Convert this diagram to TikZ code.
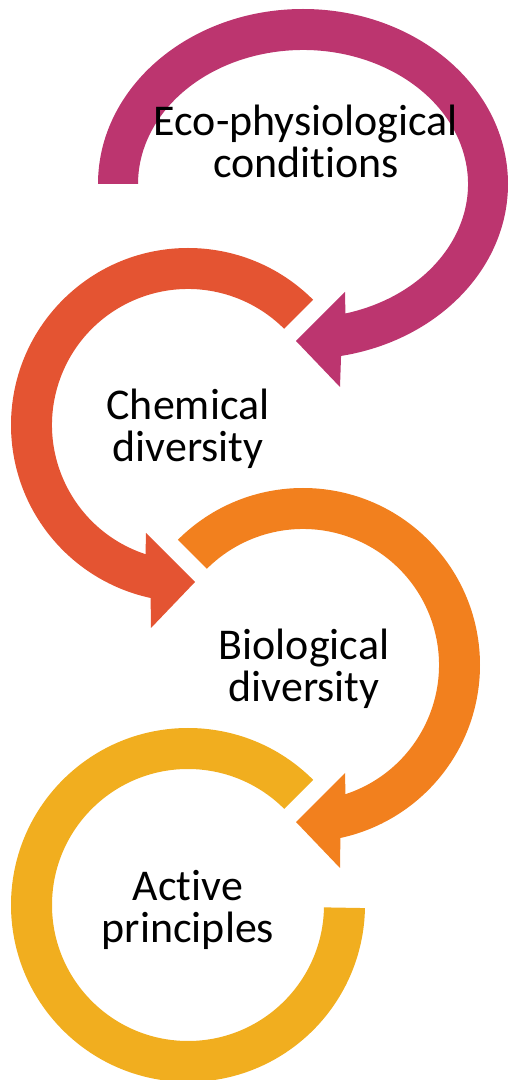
\documentclass[tikz,border=0pt]{standalone}
\usepackage{fontspec}
\setmainfont{Carlito}[Ligatures=NoCommon]

\definecolor{ecopink}{RGB}{188,53,111}
\definecolor{chemred}{RGB}{228,84,50}
\definecolor{bioorange}{RGB}{242,128,30}
\definecolor{actgold}{RGB}{241,174,31}

\begin{document}
\begin{tikzpicture}[x=0.02cm, y=0.02cm,
		lbl/.style={align=center, anchor=base, font=\fontsize{25}{24}\selectfont}]
	\useasboundingbox (0,0) rectangle (508,1080);

	\coordinate (c1) at (303,896);
	\coordinate (c2) at (188,655);
	\coordinate (c3) at (303,415);
	\coordinate (c4) at (188,175);

	% top ring is stretched sideways
	\fill[ecopink, shift={(c1)}] (180:205 and 175)
		arc[start angle=180, end angle=-79.3, x radius=205, y radius=175]
		-- (37,-203) -- (-7,-157) -- (42,-108) -- (-75.1:165 and 134)
		arc[start angle=-75.1, end angle=180, x radius=165, y radius=134] -- cycle;

	\fill[chemred, shift={(c2)}] (45:177)
		arc[start angle=45, end angle=257.8, radius=177]
		-- (-37,-203) -- (7,-157) -- (-42,-108) -- (251.8:136)
		arc[start angle=251.8, end angle=45, radius=136] -- cycle;

	\fill[bioorange, shift={(c3)}] (135:177)
		arc[start angle=135, end angle=-77.8, radius=177]
		-- (37,-203) -- (-7,-157) -- (42,-108) -- (-71.8:136)
		arc[start angle=-71.8, end angle=135, radius=136] -- cycle;

	% last ring has no head
	\fill[actgold, shift={(c4)}] (45:177)
		arc[start angle=45, end angle=359, radius=177]
		-- (359:136)
		arc[start angle=359, end angle=45, radius=136] -- cycle;

	% base anchor sits on the second line
	\node[lbl] (E) at (306,902) {Eco-physiological\\conditions};
	\node[lbl] (C) at (188,618) {Chemical\\diversity};
	\node[lbl] (B) at (304,378) {Biological\\diversity};
	\node[lbl] (A) at (188,137) {Active\\principles};
\end{tikzpicture}
\end{document}
